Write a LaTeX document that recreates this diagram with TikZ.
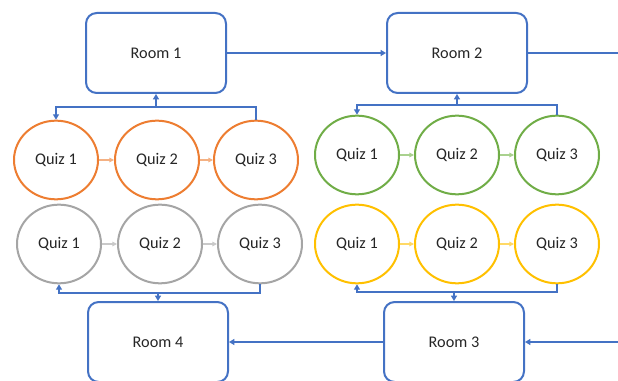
\documentclass[tikz,border=0pt]{standalone}
\usepackage{fontspec}
\setmainfont{Carlito}
\usetikzlibrary{arrows.meta,shapes.geometric}
\definecolor{roomblue}{HTML}{4472C4}
\definecolor{qorange}{HTML}{ED7D31}
\definecolor{qgreen}{HTML}{70AD47}
\definecolor{qgray}{HTML}{A5A5A5}
\definecolor{qyellow}{HTML}{FFC000}
\definecolor{aorange}{HTML}{F4B183}
\definecolor{agreen}{HTML}{A9D18E}
\definecolor{agray}{HTML}{C9C9C9}
\definecolor{ayellow}{HTML}{FFD966}
\begin{document}
\begin{tikzpicture}[x=0.75pt,y=-0.75pt,
  every node/.style={font=\fontsize{12.2}{14}\selectfont, text=black!85},
  room/.style={draw=roomblue, line width=1.5pt, rounded corners=8pt,
    minimum width=105pt, minimum height=60pt, inner sep=0pt},
  quiz/.style={ellipse, draw=#1, line width=1.5pt,
    minimum width=63pt, minimum height=59pt, inner sep=0pt},
  flow/.style={draw=roomblue, line width=1.5pt,
    -{Triangle[length=4pt,width=4.5pt]}},
  plain/.style={draw=roomblue, line width=1.5pt},
  qstep/.style={draw=#1, line width=0.8pt,
    -{Triangle[length=3.5pt,width=3.5pt]}},
]
\useasboundingbox (0,0) rectangle (618,381);

% rooms
\node[room] (r1) at (156,53) {Room 1};
\node[room] (r2) at (457,53) {Room 2};
\node[room] (r3) at (454,342) {Room 3};
\node[room] (r4) at (158,342) {Room 4};

% quiz chains
\node[quiz=qorange] (o1) at (56,160) {Quiz 1};
\node[quiz=qorange] (o2) at (157,160) {Quiz 2};
\node[quiz=qorange] (o3) at (256,160) {Quiz 3};

\node[quiz=qgreen] (g1) at (357,155) {Quiz 1};
\node[quiz=qgreen] (g2) at (457,155) {Quiz 2};
\node[quiz=qgreen] (g3) at (557,155) {Quiz 3};

\node[quiz=qgray] (h1) at (59,244) {Quiz 1};
\node[quiz=qgray] (h2) at (160,244) {Quiz 2};
\node[quiz=qgray] (h3) at (260,244) {Quiz 3};

\node[quiz=qyellow] (y1) at (357,244) {Quiz 1};
\node[quiz=qyellow] (y2) at (457,244) {Quiz 2};
\node[quiz=qyellow] (y3) at (557,244) {Quiz 3};

% steps between quizzes
\draw[qstep=aorange] (o1) -- (o2);
\draw[qstep=aorange] (o2) -- (o3);
\draw[qstep=agreen] (g1) -- (g2);
\draw[qstep=agreen] (g2) -- (g3);
\draw[qstep=agray] (h1) -- (h2);
\draw[qstep=agray] (h2) -- (h3);
\draw[qstep=ayellow] (y1) -- (y2);
\draw[qstep=ayellow] (y2) -- (y3);

% bus junctions
\coordinate (b1) at (156,107);
\coordinate (b2) at (457,105);
\coordinate (b4) at (158,293);
\coordinate (b3) at (454,292);

% room <-> quiz loops
\draw[flow] (o3.north) |- (b1) -| (o1.north);
\draw[flow] (b1) -- (r1.south);
\draw[flow] (g3.north) |- (b2) -| (g1.north);
\draw[flow] (b2) -- (r2.south);
\draw[flow] (h3.south) |- (b4) -| (h1.south);
\draw[flow] (b4) -- (r4.north);
\draw[flow] (y3.south) |- (b3) -| (y1.south);
\draw[flow] (b3) -- (r3.north);

% room to room
\coordinate (out2) at (618,53);
\coordinate (in3) at (618,342);
\draw[flow] (r1) -- (r2);
\draw[plain] (r2) -- (out2);
\draw[flow] (in3) -- (r3);
\draw[flow] (r3) -- (r4);
\end{tikzpicture}
\end{document}
